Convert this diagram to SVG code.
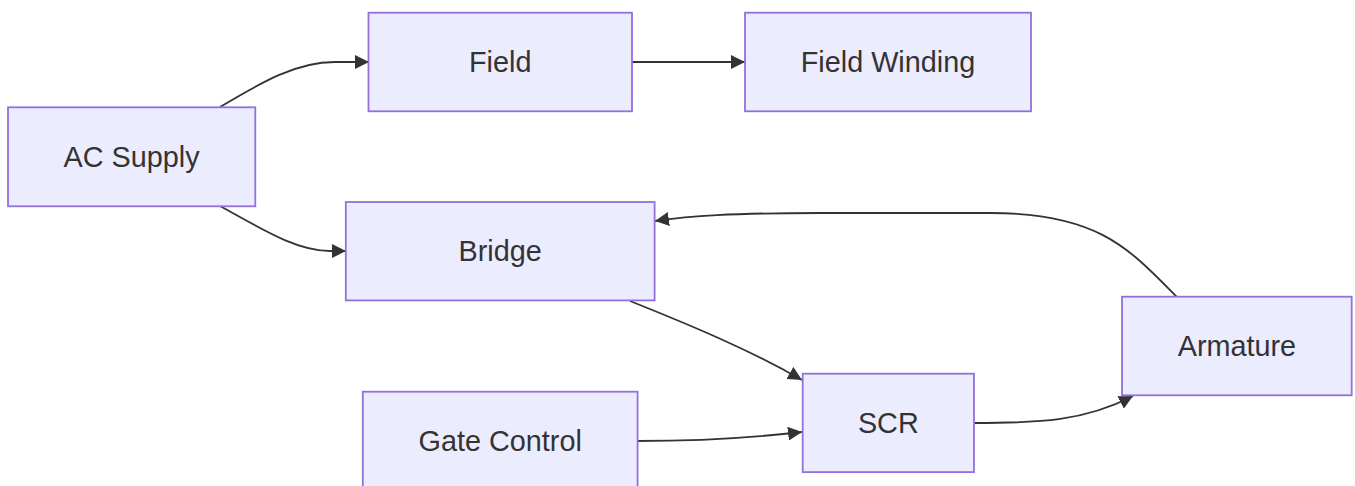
<svg xmlns="http://www.w3.org/2000/svg" width="1355" height="486" viewBox="0 0 1355 486">
<style>
.node rect{fill:#ECECFF;stroke:#9370DB;stroke-width:1.8px;}
.node text{font-family:"Liberation Sans",Arial,Helvetica,sans-serif;font-size:28.8px;fill:#333333;text-anchor:middle;}
.edge path{fill:none;stroke:#333333;stroke-width:1.8px;}
</style>
<defs>
<marker id="arrow" viewBox="0 0 10 10" refX="10" refY="5" markerUnits="userSpaceOnUse" markerWidth="14" markerHeight="14" orient="auto">
<path d="M0,0 L10,5 L0,10 z" fill="#333333"/>
</marker>
</defs>
<rect width="1355" height="486" fill="#ffffff"/>
<g id="edges" class="edge">
<path d="M220,107 C262,82 296,62 335,62 L369,62" marker-end="url(#arrow)"/>
<path d="M632,62 L745,62" marker-end="url(#arrow)"/>
<path d="M220,206 C262,229 296,251 330,251 L346,251" marker-end="url(#arrow)"/>
<path d="M1177,297 C1130,250 1100,213 990,213 L820,213 C730,213 690,216 655,221" marker-end="url(#arrow)"/>
<path d="M630,301 C690,325 750,350 802,380" marker-end="url(#arrow)"/>
<path d="M637,441 C700,441 750,438 802,432" marker-end="url(#arrow)"/>
<path d="M974,423 C1040,423 1085,421 1133,396" marker-end="url(#arrow)"/>
</g>
<g id="node-ac" class="node"><rect x="8" y="107.3" width="247.3" height="99"/><text x="131.6" y="166.8">AC Supply</text></g>
<g id="node-field" class="node"><rect x="368.5" y="12.7" width="263.5" height="98.6"/><text x="500.2" y="72.3">Field</text></g>
<g id="node-fieldwinding" class="node"><rect x="745" y="12.7" width="286" height="98.6"/><text x="888" y="72.3">Field Winding</text></g>
<g id="node-bridge" class="node"><rect x="345.8" y="202" width="308.8" height="98.4"/><text x="500.2" y="261.2">Bridge</text></g>
<g id="node-gate" class="node"><rect x="362.8" y="391.7" width="274.8" height="98.4"/><text x="500.2" y="450.9">Gate Control</text></g>
<g id="node-scr" class="node"><rect x="802.7" y="373.7" width="171.3" height="98.4"/><text x="888.3" y="432.9">SCR</text></g>
<g id="node-armature" class="node"><rect x="1122" y="296.7" width="229.7" height="98.6"/><text x="1236.9" y="356">Armature</text></g>
</svg>
